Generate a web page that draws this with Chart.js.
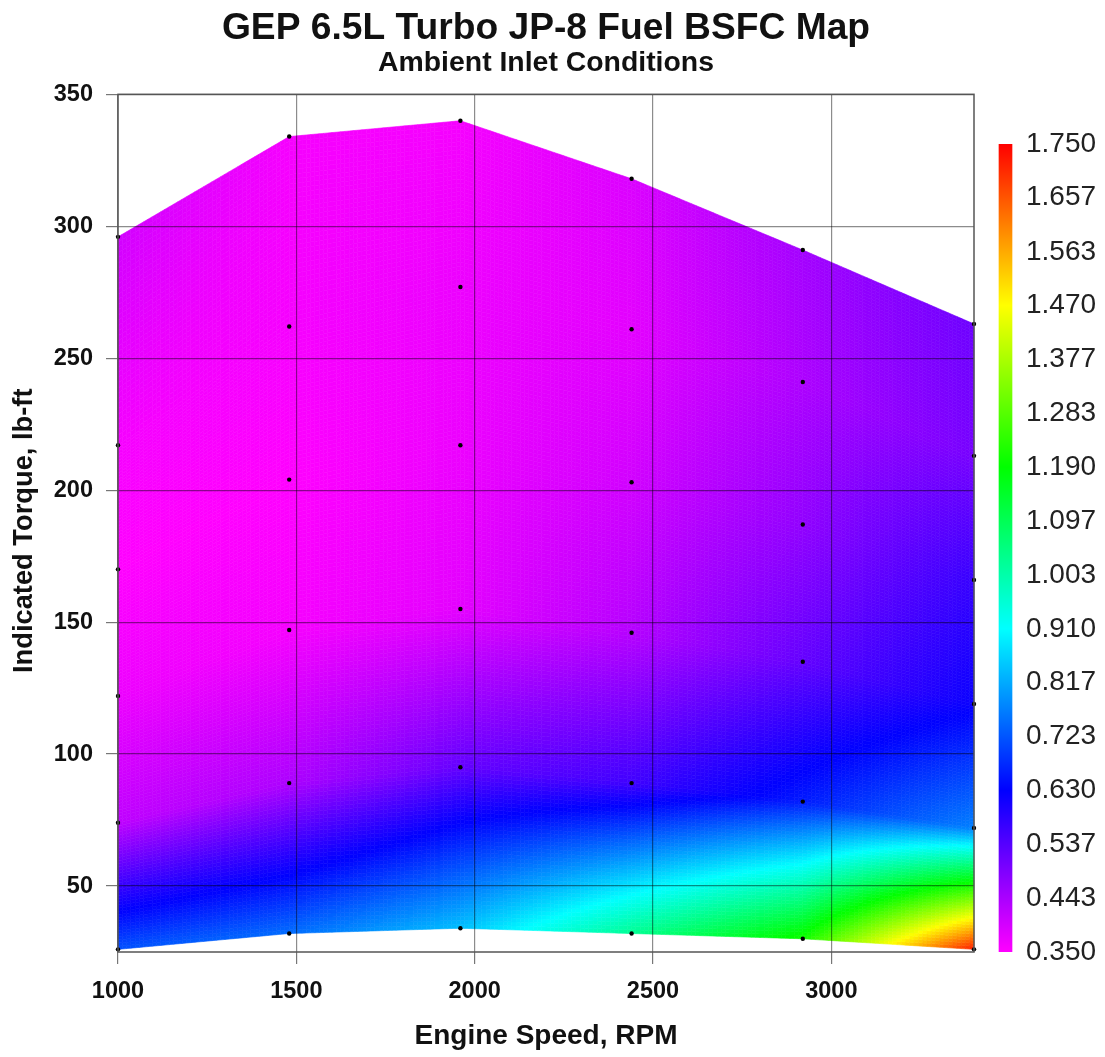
<!DOCTYPE html>
<html>
<head>
<meta charset="utf-8">
<title>GEP 6.5L Turbo JP-8 Fuel BSFC Map</title>
<script src="https://cdn.jsdelivr.net/npm/chart.js@4/dist/chart.umd.min.js"></script>
<style>
  body { margin: 0; background: #fff; }
  #wrap { position: relative; width: 1105px; height: 1057px; }
  #mapa { position: absolute; left: 0; top: 0; }
  #barra { position: absolute; left: 985px; top: 120px; }
</style>
</head>
<body>
<div id="wrap">
  <canvas id="mapa" width="1105" height="1057"></canvas>
  <canvas id="barra" width="120" height="860"></canvas>
</div>
<script>
// Velocidades medidas (rpm)
const rpmValues = [1000, 1480, 1960, 2440, 2920, 3400];

// Torque medido en cada velocidad, de abajo hacia arriba (lb-ft)
const torque1000 = [26, 74, 122, 170, 217, 296];
const torque1480 = [32, 89, 147, 204, 262, 334];
const torque1960 = [34, 95, 155, 217, 277, 340];
const torque2440 = [32, 89, 146, 203, 261, 318];
const torque2920 = [30, 82, 135, 187, 241, 291];
const torque3400 = [26, 72, 119, 166, 213, 263];

const bsfc1000 = [0.72, 0.42, 0.37, 0.35, 0.36, 0.40];
const bsfc1480 = [0.75, 0.44, 0.36, 0.35, 0.36, 0.36];
const bsfc1960 = [0.84, 0.52, 0.38, 0.37, 0.37, 0.36];
const bsfc2440 = [1.03, 0.56, 0.43, 0.40, 0.38, 0.39];
const bsfc2920 = [1.21, 0.66, 0.52, 0.47, 0.44, 0.45];
const bsfc3400 = [1.72, 0.77, 0.62, 0.57, 0.50, 0.51];

const torqueTable = [torque1000, torque1480, torque1960, torque2440, torque2920, torque3400];
const bsfcTable = [bsfc1000, bsfc1480, bsfc1960, bsfc2440, bsfc2920, bsfc3400];

// Ticks de los ejes
const xTicks = [1000, 1500, 2000, 2500, 3000];
const yTicks = [50, 100, 150, 200, 250, 300, 350];
const barTicks = [0.350, 0.443, 0.537, 0.630, 0.723, 0.817, 0.910, 1.003, 1.097, 1.190, 1.283, 1.377, 1.470, 1.563, 1.657, 1.750];

// Escala de color
const colorValues = [0.35, 0.63, 0.91, 1.19, 1.47, 1.75];
const colorStops = [[255, 0, 255], [0, 0, 255], [0, 255, 255], [0, 255, 0], [255, 255, 0], [255, 0, 0]];

const FONT = "'Liberation Sans', Arial, sans-serif";
const SUB = 40; // subdivisiones por celda

function colorFor(v) {
  if (v <= colorValues[0]) return `rgb(${colorStops[0].join(",")})`;
  for (let i = 1; i < colorValues.length; i++) {
    if (v <= colorValues[i]) {
      const t = (v - colorValues[i - 1]) / (colorValues[i] - colorValues[i - 1]);
      const a = colorStops[i - 1], b = colorStops[i];
      return `rgb(${a.map((c, k) => Math.round(c + (b[k] - c) * t)).join(",")})`;
    }
  }
  return "rgb(255,0,0)";
}

// Valor bilineal dentro de una celda de la malla
function bilinear(q, u, v) {
  return (q[0] * (1 - u) + q[1] * u) * (1 - v) + (q[2] * (1 - u) + q[3] * u) * v;
}

// Dibuja la superficie con las escalas del chart
const superficie = {
  id: "superficie",
  beforeDatasetsDraw(chart) {
    const { ctx, scales } = chart;
    ctx.save();
    for (let c = 0; c < rpmValues.length - 1; c++) {
      for (let r = 0; r < torque1000.length - 1; r++) {
        const xs = [rpmValues[c], rpmValues[c + 1], rpmValues[c], rpmValues[c + 1]];
        const ts = [torqueTable[c][r], torqueTable[c + 1][r], torqueTable[c][r + 1], torqueTable[c + 1][r + 1]];
        const bs = [bsfcTable[c][r], bsfcTable[c + 1][r], bsfcTable[c][r + 1], bsfcTable[c + 1][r + 1]];
        const pt = (u, v) => [scales.x.getPixelForValue(bilinear(xs, u, v)), scales.y.getPixelForValue(bilinear(ts, u, v))];
        for (let i = 0; i < SUB; i++) {
          for (let j = 0; j < SUB; j++) {
            const u0 = i / SUB, u1 = (i + 1) / SUB, v0 = j / SUB, v1 = (j + 1) / SUB;
            const col = colorFor(bilinear(bs, (u0 + u1) / 2, (v0 + v1) / 2));
            ctx.beginPath();
            ctx.moveTo(...pt(u0, v0));
            ctx.lineTo(...pt(u1, v0));
            ctx.lineTo(...pt(u1, v1));
            ctx.lineTo(...pt(u0, v1));
            ctx.closePath();
            ctx.fillStyle = col;
            ctx.strokeStyle = col;
            ctx.lineWidth = 0.6;
            ctx.fill();
            ctx.stroke();
          }
        }
      }
    }
    ctx.restore();
  }
};

// Marco alrededor del area del grafico
const marco = {
  id: "marco",
  afterDraw(chart) {
    const { ctx, chartArea: a } = chart;
    ctx.save();
    ctx.strokeStyle = "#555";
    ctx.lineWidth = 1.5;
    ctx.strokeRect(a.left, a.top, a.right - a.left, a.bottom - a.top);
    ctx.restore();
  }
};

const puntos = [];
rpmValues.forEach((rpm, c) => {
  torqueTable[c].forEach(t => puntos.push({ x: rpm, y: t }));
});

new Chart(document.getElementById("mapa"), {
  type: "scatter",
  data: {
    datasets: [{
      data: puntos,
      backgroundColor: "#000",
      borderWidth: 0,
      pointRadius: 2.2,
      clip: false
    }]
  },
  plugins: [superficie, marco],
  options: {
    responsive: false,
    animation: false,
    events: [],
    layout: { padding: { top: 8, left: 8, right: 131, bottom: 4 } },
    plugins: {
      legend: { display: false },
      tooltip: { enabled: false },
      title: {
        display: true,
        text: "GEP 6.5L Turbo JP-8 Fuel BSFC Map",
        color: "#111",
        fullSize: false,
        font: { family: FONT, size: 37.2, weight: "bold", lineHeight: 1.1 },
        padding: { top: 0, bottom: 0 }
      },
      subtitle: {
        display: true,
        text: "Ambient Inlet Conditions",
        color: "#111",
        fullSize: false,
        font: { family: FONT, size: 28.4, weight: "bold", lineHeight: 1 },
        padding: { top: 0, bottom: 17 }
      }
    },
    scales: {
      x: {
        type: "linear",
        min: 1000,
        max: 3400,
        afterBuildTicks: s => { s.ticks = xTicks.map(v => ({ value: v })); },
        afterFit: s => { s.height = 101; },
        grid: { z: 1, color: "rgba(0,0,0,0.45)", tickColor: "#777", tickLength: 12, lineWidth: 1.2 },
        border: { display: false },
        ticks: {
          padding: 13,
          color: "#111",
          maxRotation: 0,
          autoSkip: false,
          font: { family: FONT, size: 23.5, weight: "bold" },
          callback: v => String(v)
        },
        title: {
          display: true,
          text: "Engine Speed, RPM",
          color: "#111",
          font: { family: FONT, size: 28, weight: "bold" },
          padding: { top: 0, bottom: 0 }
        }
      },
      y: {
        type: "linear",
        min: 25,
        max: 350,
        afterBuildTicks: s => { s.ticks = yTicks.map(v => ({ value: v })); },
        afterFit: s => { s.width = 110; },
        grid: { z: 1, color: "rgba(0,0,0,0.45)", tickColor: "#777", tickLength: 12, lineWidth: 1.2 },
        border: { display: false },
        ticks: {
          padding: 13,
          color: "#111",
          autoSkip: false,
          font: { family: FONT, size: 23.5, weight: "bold" },
          callback: v => String(v)
        },
        title: {
          display: true,
          // los espacios bajan el texto, en el original no esta centrado
          text: "Indicated Torque, lb-ft  ",
          color: "#111",
          font: { family: FONT, size: 27.3, weight: "bold" },
          padding: { top: 0, bottom: 0 }
        }
      }
    }
  }
});

// Barra de color, un segundo chart con su propia escala
function gradienteBarra(context) {
  const { ctx, scales, chartArea } = context.chart;
  if (!chartArea) return "#000";
  const top = scales.y.getPixelForValue(1.75), bottom = scales.y.getPixelForValue(0.35);
  if (!isFinite(top) || !isFinite(bottom)) return "#000";
  const g = ctx.createLinearGradient(0, bottom, 0, top);
  colorValues.forEach(v => {
    g.addColorStop((v - 0.35) / 1.4, colorFor(v));
  });
  return g;
}

new Chart(document.getElementById("barra"), {
  type: "bar",
  data: {
    labels: ["BSFC"],
    datasets: [{
      data: [[0.35, 1.75]],
      backgroundColor: gradienteBarra,
      borderWidth: 0,
      barThickness: 13
    }]
  },
  options: {
    responsive: false,
    animation: false,
    events: [],
    layout: { padding: { top: 24, bottom: 28 } },
    plugins: { legend: { display: false }, tooltip: { enabled: false } },
    scales: {
      x: { display: false },
      y: {
        position: "right",
        min: 0.35,
        max: 1.75,
        afterBuildTicks: s => { s.ticks = barTicks.map(v => ({ value: v })); },
        afterFit: s => { s.width = 79; },
        grid: { display: false, drawTicks: false },
        border: { display: false },
        ticks: {
          padding: 0,
          color: "#222",
          autoSkip: false,
          font: { family: FONT, size: 28 },
          callback: v => v.toFixed(3)
        }
      }
    }
  }
});
</script>
</body>
</html>
